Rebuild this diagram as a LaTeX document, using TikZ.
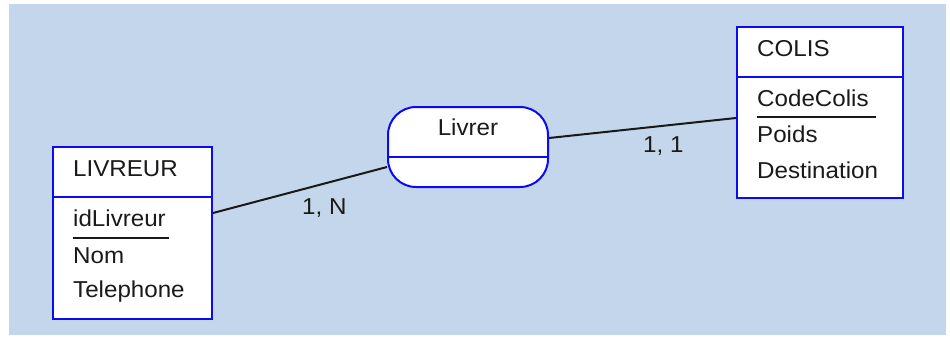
\documentclass[tikz,border=0pt]{standalone}
\usepackage{fontspec}
\setmainfont[FakeStretch=1.05]{Liberation Sans}
\definecolor{bg}{HTML}{C4D6EB}
\definecolor{ent}{HTML}{0A0AF5}
\definecolor{txt}{HTML}{1A1A1A}
\begin{document}
\begin{tikzpicture}[x=1pt,y=-1pt,
  box/.style={draw=ent,line width=2pt,fill=white,inner sep=0pt,rectangle},
  assoc/.style={box,rounded corners=28pt},
  divider/.style={draw=ent,line width=2pt},
  lbl/.style={anchor=base west,inner sep=0pt,text=txt,font=\fontsize{23}{27}\selectfont},
  conn/.style={draw=black!90,line width=2pt},
  keyline/.style={draw=black!90,line width=2pt}]
\useasboundingbox (0,0) rectangle (950,338);
\fill[bg] (9,4) rectangle (946,335);
% entities
\node[box,minimum width=159pt,minimum height=172pt] (livreur) at (132.5,233) {};
\node[box,minimum width=166pt,minimum height=171pt] (colis) at (820,112.5) {};
\node[assoc,minimum width=160pt,minimum height=80pt] (livrer) at (468,147) {};
% dividers
\draw[divider] (livreur.west |- 0,197) -- (livreur.east |- 0,197);
\draw[divider] (colis.west |- 0,77) -- (colis.east |- 0,77);
\draw[divider] (livrer.west |- 0,157) -- (livrer.east |- 0,157);
% texts LIVREUR
\node[lbl] (livreurtitle) at (73,176) {LIVREUR};
\node[lbl] (idlivreur) at (73,226) {idLivreur};
\node[lbl] (nom) at (73,263) {Nom};
\node[lbl] (telephone) at (73,297) {Telephone};
\draw[keyline] (73,238) -- (169,238);
% texts COLIS
\node[lbl] (colistitle) at (757,56) {COLIS};
\node[lbl] (codecolis) at (757,106) {CodeColis};
\node[lbl] (poids) at (757,142) {Poids};
\node[lbl] (destination) at (757,178) {Destination};
\draw[keyline] (757,117) -- (876,117);
% association text
\node[lbl,anchor=base] (livrertitle) at (468,135) {Livrer};
% connectors
\draw[conn] ([yshift=20pt]livreur.east) -- ([yshift=-20pt]livrer.west);
\draw[conn] ([yshift=9pt]livrer.east) -- ([yshift=-5.5pt]colis.west);
% cardinalities
\node[lbl] (cardN) at (302,214) {1, N};
\node[lbl] (card1) at (643,152) {1, 1};
\end{tikzpicture}
\end{document}
